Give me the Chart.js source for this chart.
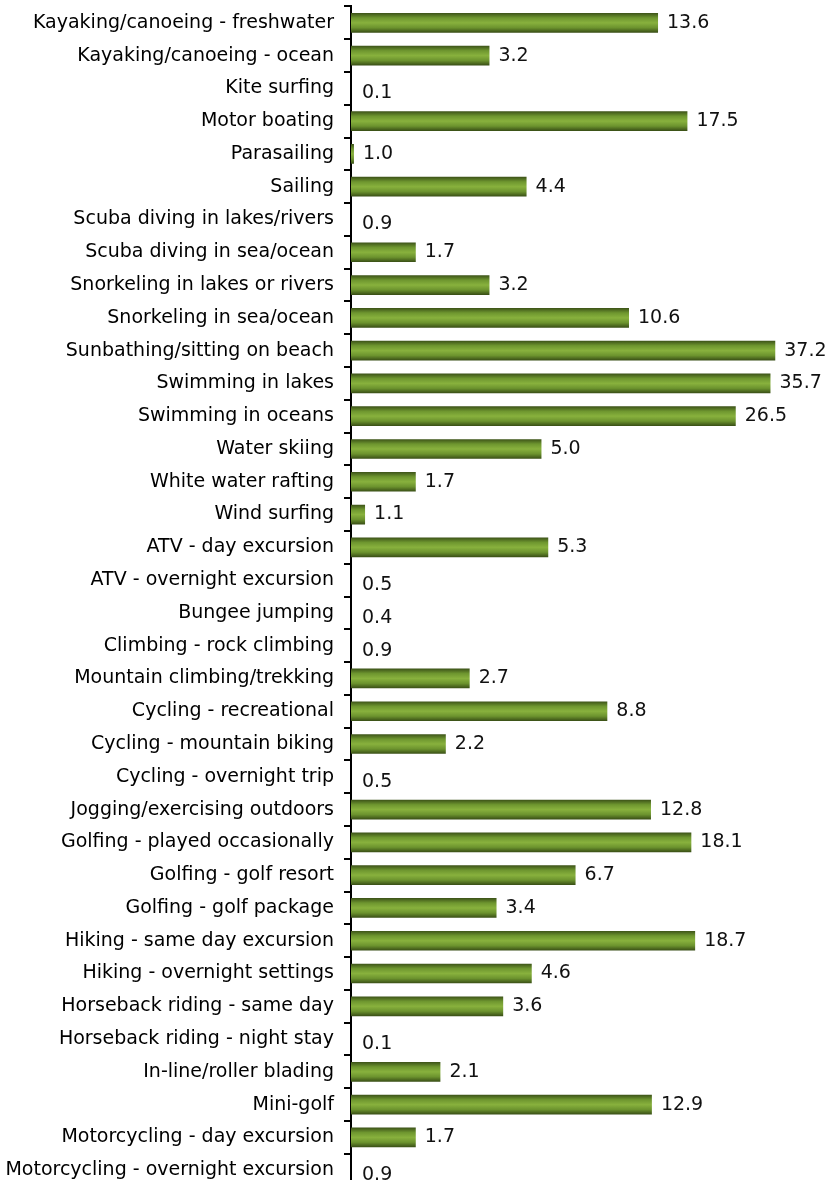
<!DOCTYPE html>
<html>
<head>
<meta charset="utf-8">
<script src="https://cdn.jsdelivr.net/npm/chart.js@4/dist/chart.umd.min.js"></script>
<style>
  html,body{margin:0;padding:0;background:#fff;overflow:hidden}
  #wrap{width:828px;height:1180px;overflow:hidden}
  /* plot is a bit cropped at top and bottom, like the source image */
  #cv{display:block;margin-top:-15px}
</style>
</head>
<body>
<div id="wrap"><canvas id="cv" width="828" height="1223"></canvas></div>
<script>
'use strict';
// ── DATA ──────────────────────────────────────────────────────
const activities = [
  'Kayaking/canoeing - freshwater','Kayaking/canoeing - ocean','Kite surfing',
  'Motor boating','Parasailing','Sailing','Scuba diving in lakes/rivers',
  'Scuba diving in sea/ocean','Snorkeling in lakes or rivers','Snorkeling in sea/ocean',
  'Sunbathing/sitting on beach','Swimming in lakes','Swimming in oceans','Water skiing',
  'White water rafting','Wind surfing','ATV - day excursion','ATV - overnight excursion',
  'Bungee jumping','Climbing - rock climbing','Mountain climbing/trekking',
  'Cycling - recreational','Cycling - mountain biking','Cycling - overnight trip',
  'Jogging/exercising outdoors','Golfing - played occasionally','Golfing - golf resort',
  'Golfing - golf package','Hiking - same day excursion','Hiking - overnight settings',
  'Horseback riding - same day','Horseback riding - night stay','In-line/roller blading',
  'Mini-golf','Motorcycling - day excursion','Motorcycling - overnight excursion'
];
const percents = [
  13.6, 3.2, 0.1, 17.5, 1.0, 4.4, 0.9, 1.7, 3.2, 10.6,
  37.2, 35.7, 26.5, 5.0, 1.7, 1.1, 5.3, 0.5, 0.4, 0.9,
  2.7, 8.8, 2.2, 0.5, 12.8, 18.1, 6.7, 3.4, 18.7, 4.6,
  3.6, 0.1, 2.1, 12.9, 1.7, 0.9
];

// ── STYLE ─────────────────────────────────────────────────────
const FONT = 'DejaVu Sans';
const X_MIN = 0.975, X_MAX = 46;  // bars sit on a log axis
const BAR_PCT = 0.6;

const $ = id => document.getElementById(id);

// cylinder-like shading: dark edges, light middle
function barFill(ctx){
  const ch = ctx.chart, ys = ch.scales.y;
  if (!ys || ctx.dataIndex == null || !ch.chartArea) return '#7aa232';
  const cy = ys.getPixelForValue(ctx.dataIndex);
  const h = (ys.height / activities.length) * BAR_PCT;
  if (!isFinite(cy) || !isFinite(h) || h <= 0) return '#7aa232';
  const g = ch.ctx.createLinearGradient(0, cy - h/2, 0, cy + h/2);
  g.addColorStop(0,    '#3c5218');
  g.addColorStop(0.25, '#6e962f');
  g.addColorStop(0.5,  '#88b13d');
  g.addColorStop(0.75, '#6c932e');
  g.addColorStop(1,    '#384d15');
  return g;
}

// value labels next to the bars
const valueLabels = {
  id:'valueLabels',
  afterDatasetsDraw(chart){
    const c = chart.ctx, meta = chart.getDatasetMeta(0);
    const left = chart.chartArea.left;
    c.save();
    c.font = '19px "' + FONT + '"';
    c.fillStyle = '#111';
    c.textBaseline = 'middle';
    c.textAlign = 'left';
    meta.data.forEach((bar, i) => {
      const v = percents[i];
      const s = v.toFixed(1);
      if (v < X_MIN) c.fillText(s, left + 11, bar.y + 5);
      else c.fillText(s, bar.x + 9, bar.y);
    });
    c.restore();
  }
};

new Chart($('cv').getContext('2d'), {
  type:'bar',
  data:{
    labels: activities,
    datasets:[{
      data: percents.map(v => Math.max(v, X_MIN)),
      backgroundColor: barFill,
      borderWidth: 0,
      barPercentage: BAR_PCT,
      categoryPercentage: 1
    }]
  },
  options:{
    indexAxis:'y',
    responsive:false,
    animation:false,
    devicePixelRatio:1,
    layout:{ autoPadding:false, padding:{ top:5, bottom:4, left:0, right:28 } },
    plugins:{ legend:{display:false}, tooltip:{enabled:false} },
    scales:{
      x:{ type:'logarithmic', display:false, min:X_MIN, max:X_MAX },
      y:{
        afterFit: s => { s.width = 351; },
        border:{ display:true, color:'#000', width:2 },
        grid:{ drawOnChartArea:false, color:'#000', lineWidth:2, tickLength:7, offset:true },
        ticks:{ color:'#000', padding:10, autoSkip:false, font:{ family:FONT, size:19 } }
      }
    }
  },
  plugins:[valueLabels]
});
</script>
</body>
</html>
